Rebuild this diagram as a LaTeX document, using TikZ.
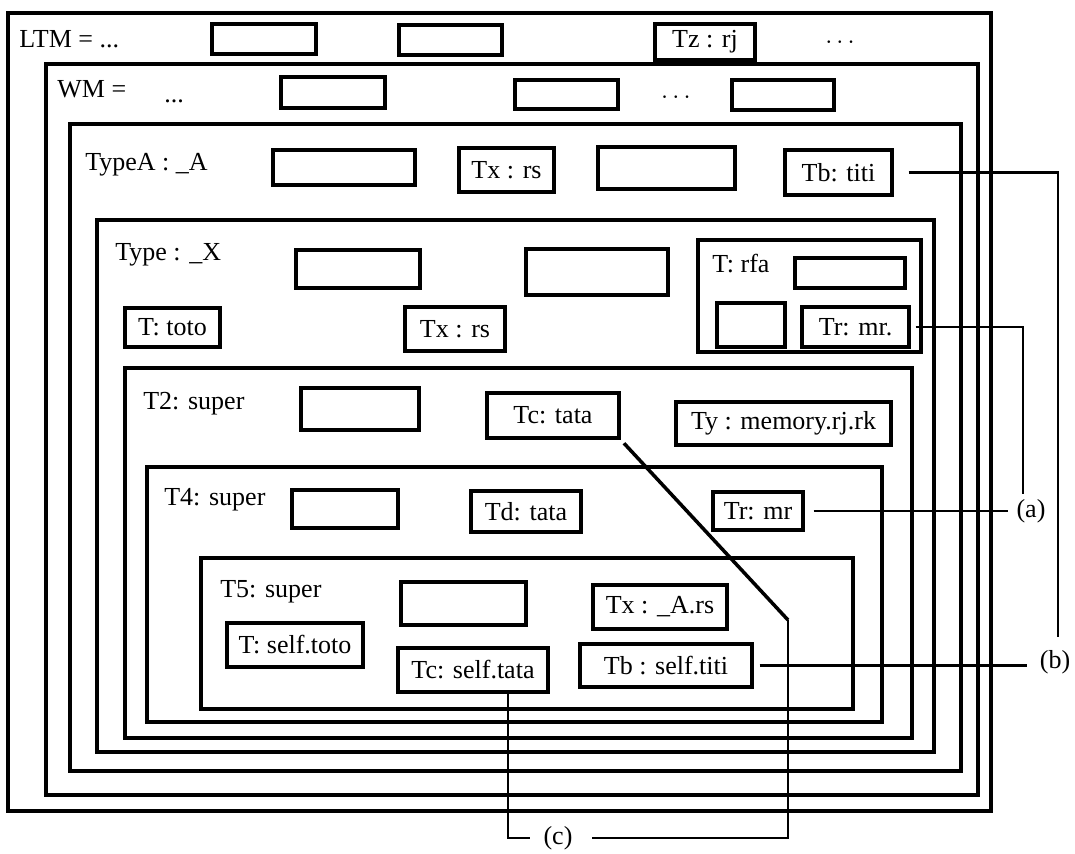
\documentclass[tikz,border=0pt]{standalone}
\usepackage{fontspec}
\setmainfont{Liberation Serif}

\newcommand{\boxfont}{\fontsize{14.8}{17}\selectfont}

\begin{document}
\begin{tikzpicture}[
    x=0.02cm, y=-0.02cm,
    every node/.style={font=\boxfont},
    memframe/.style={draw, line width=1.75pt},
    fld/.style 2 args={rectangle, draw, line width=1.8pt, inner sep=0pt,
                minimum width=#1*0.02cm, minimum height=#2*0.02cm},
    lbl/.style={anchor=base west, inner sep=0pt},
    reflbl/.style={inner sep=0pt},
    link/.style={line width=1.2pt}
]
    \useasboundingbox (0,0) rectangle (1075,853);

    % Nested memory frames
    \draw[memframe] (8,13)    rectangle (991,811);   % LTM
    \draw[memframe] (46,64)   rectangle (978,795);   % WM
    \draw[memframe] (70,124)  rectangle (961,771);   % TypeA
    \draw[memframe] (97,220)  rectangle (934,752);   % Type X
    \draw[memframe] (125,368) rectangle (912,738);   % T2
    \draw[memframe] (147,467) rectangle (882,722);   % T4
    \draw[memframe] (201,558) rectangle (853,709);   % T5

    % LTM row
    \node[lbl] (ltm) at (19,47) {LTM = ...};
    \node[fld={104}{30}] (ltm1) at (264,39) {};
    \node[fld={103}{30}] (ltm2) at (450.5,40) {};
    \node[fld={100}{36}] (tz) at (705,42) {Tz : rj};
    \node[reflbl] (ltmdots) at (840,43) {$\cdots$};

    % WM row
    \node[lbl] (wm) at (57,97) {WM =};
    \node[lbl] (wmdotsa) at (164,102) {...};
    \node[fld={104}{31}] (wm1) at (333,92.5) {};
    \node[fld={103}{29}] (wm2) at (566.5,94.5) {};
    \node[reflbl] (wmdots) at (676,98) {$\cdots$};
    \node[fld={102}{30}] (wm3) at (783,95) {};

    % TypeA
    \node[lbl] (typea) at (85,170) {TypeA : \_A};
    \node[fld={142}{35}] (a1) at (344,167.5) {};
    \node[fld={95}{44}] (txa) at (506.5,170) {Tx : rs};
    \node[fld={137}{42}] (a3) at (666.5,168) {};
    \node[fld={107}{45}] (tba) at (838.5,172.5) {Tb: titi};

    % Type X
    \node[lbl] (typex) at (115,260) {Type : \_X};
    \node[fld={124}{38}] (x1) at (358,269) {};
    \node[fld={142}{46}] (x2) at (597,272) {};
    \node[fld={95}{39}] (ttoto) at (172.5,327.5) {T: toto};
    \node[fld={100}{44}] (txx) at (455,329) {Tx : rs};

    % T: rfa
    \draw[memframe] (698,240) rectangle (921,352);
    \node[lbl] (rfa) at (712,272) {T: rfa};
    \node[fld={110}{30}] (r1) at (850,273) {};
    \node[fld={68}{44}] (r2) at (751,325) {};
    \node[fld={107}{40}] (tra) at (855.5,327) {Tr: mr.};

    % T2
    \node[lbl] (t2) at (143,409) {T2: super};
    \node[fld={118}{42}] (t2b) at (360,409) {};
    \node[fld={132}{45}] (tca) at (553,415.5) {Tc: tata};
    \node[fld={215}{43}] (ty) at (783.5,423.5) {Ty : memory.rj.rk};

    % T4
    \node[lbl] (t4) at (164,505) {T4: super};
    \node[fld={106}{38}] (t4b) at (345,509) {};
    \node[fld={110}{41}] (td) at (526,511.5) {Td: tata};
    \node[fld={90}{38}] (trb) at (758,511) {Tr: mr};

    % T5
    \node[lbl] (t5) at (220,597) {T5: super};
    \node[fld={125}{43}] (t5b) at (463.5,603.5) {};
    \node[fld={136}{44}] (tself) at (295,645) {T: self.toto};
    \node[fld={150}{44}] (tcb) at (473,670) {Tc: self.tata};
    \node[fld={134}{44}] (txb) at (660,607) {Tx : \_A.rs};
    \node[fld={172}{43}] (tbb) at (666,665.5) {Tb : self.titi};

    % Reference marks
    \node[reflbl] (la) at (1031,511) {(a)};
    \node[reflbl] (lb) at (1055,662) {(b)};
    \node[reflbl] (lc) at (558,838) {(c)};

    % Links to the marks
    \draw[link, shorten <=0.3cm, shorten >=0.25cm] (tba.east) -| ([xshift=0.06cm]lb.north);
    \draw[link, shorten <=0.1cm, shorten >=0.1cm] (tra.east) -| ([xshift=-0.16cm]la.north);
    \draw[link, shorten <=0.18cm, shorten >=0.17cm] (trb.east) -- (trb.east -| la.west);
    \draw[link, shorten <=0.12cm, shorten >=0.26cm] (tbb.east) -- (tbb.east -| lb.west);
    \draw[link, line width=2pt, shorten <=0.1cm] (tca.south east) -- (788,620) coordinate (tcbend);
    \draw[link, shorten >=0.39cm] (tcbend) |- (lc.east);
    \draw[link, shorten >=0.27cm] ([xshift=0.7cm]tcb.south) |- (lc.west);

\end{tikzpicture}
\end{document}
